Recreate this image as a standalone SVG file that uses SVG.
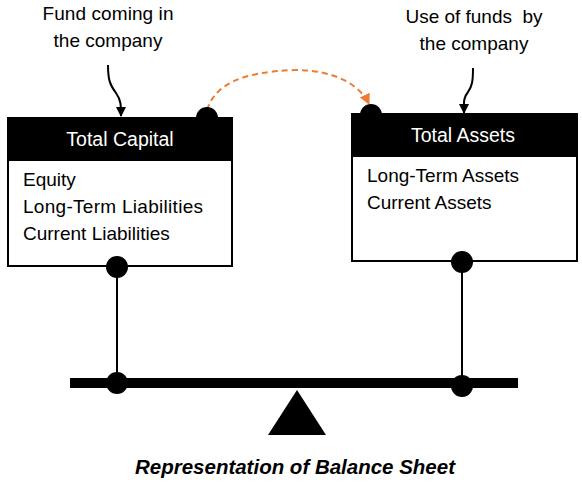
<svg xmlns="http://www.w3.org/2000/svg" width="582" height="482" viewBox="0 0 582 482">
<defs>
<style>
.lbl{font-family:"Liberation Sans",Arial,sans-serif;font-size:19px;fill:#000}
.hdr{font-family:"Liberation Sans",Arial,sans-serif;font-size:19.5px;fill:#fff}
.item{font-family:"Liberation Sans",Arial,sans-serif;font-size:19px;fill:#000}
.box{fill:#fff;stroke:#000;stroke-width:2}
.bar{fill:#000}
.dot{fill:#000}
.wire{stroke:#000;stroke-width:2;fill:none}
</style>
<marker id="ah" viewBox="0 0 10 10" refX="9" refY="5" markerWidth="10" markerHeight="10" markerUnits="userSpaceOnUse" orient="auto">
<path d="M0,0 L10,5 L0,10 Z" fill="#000"/>
</marker>
<marker id="ao" viewBox="0 0 10 10" refX="9" refY="5" markerWidth="11" markerHeight="11" markerUnits="userSpaceOnUse" orient="auto">
<path d="M0,0 L10,5 L0,10 Z" fill="#ED7D31"/>
</marker>
</defs>
<rect width="582" height="482" fill="#fff"/>
<g id="label-fund">
<text class="lbl" x="108" y="20" text-anchor="middle" textLength="131">Fund coming in</text>
<text class="lbl" x="108" y="47" text-anchor="middle">the company</text>
</g>
<g id="label-use">
<text class="lbl" x="474" y="23" text-anchor="middle" xml:space="preserve" textLength="137">Use of funds  by</text>
<text class="lbl" x="474" y="50" text-anchor="middle">the company</text>
</g>
<g id="connectors">
<path class="wire" d="M108,65 C108,80 110,85 116,93 C121,100 121,105 121,116" marker-end="url(#ah)"/>
<path class="wire" d="M473,68 C473,82 472,86 468,92 C463,98 464,103 464,113" marker-end="url(#ah)"/>
<path d="M207,110 C215,85 240,72 295,70 C335,70 360,85 369,104" fill="none" stroke="#ED7D31" stroke-width="2" stroke-dasharray="6 4" marker-end="url(#ao)"/>
<line class="wire" x1="117" y1="268" x2="117" y2="383"/>
<line class="wire" x1="462" y1="262" x2="462" y2="386"/>
</g>
<g id="total-capital">
<rect class="box" x="8" y="118" width="224" height="148"/>
<rect class="bar" x="7" y="117" width="226" height="44"/>
<circle class="dot" cx="207" cy="118" r="11"/>
<text class="hdr" x="120" y="146" text-anchor="middle">Total Capital</text>
<text class="item" x="23" y="186">Equity</text>
<text class="item" x="23" y="213" textLength="180">Long-Term Liabilities</text>
<text class="item" x="23" y="240">Current Liabilities</text>
<circle class="dot" cx="117" cy="267" r="11"/>
</g>
<g id="total-assets">
<rect class="box" x="352" y="114" width="225" height="147"/>
<rect class="bar" x="351" y="113" width="227" height="44"/>
<circle class="dot" cx="371" cy="115" r="11"/>
<text class="hdr" x="463" y="142" text-anchor="middle">Total Assets</text>
<text class="item" x="367" y="182">Long-Term Assets</text>
<text class="item" x="367" y="209">Current Assets</text>
<circle class="dot" cx="462" cy="262" r="11"/>
</g>
<g id="scale">
<rect x="70" y="378" width="448" height="10" fill="#000"/>
<circle class="dot" cx="117" cy="383" r="11"/>
<circle class="dot" cx="462" cy="386" r="11"/>
<polygon points="297,390 268,435 326,435" fill="#000"/>
</g>
<text x="295" y="474" text-anchor="middle" textLength="320" lengthAdjust="spacingAndGlyphs" style="font-family:'Liberation Sans',Arial,sans-serif;font-size:20px;font-weight:bold;font-style:italic">Representation of Balance Sheet</text>
</svg>
